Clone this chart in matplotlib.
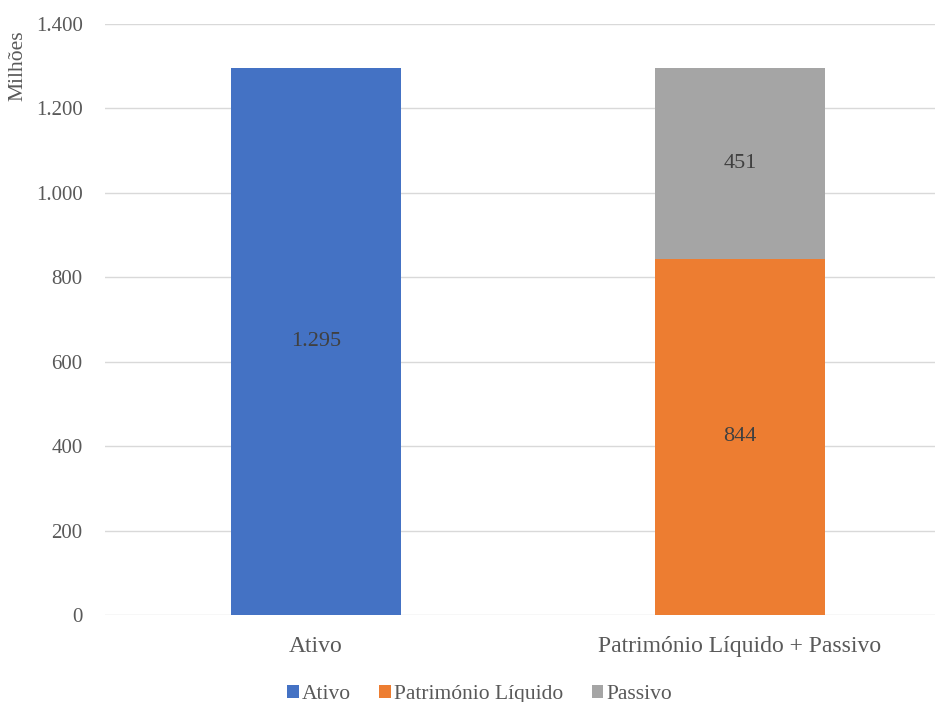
import matplotlib
matplotlib.use("Agg")
import matplotlib.pyplot as plt
from matplotlib.ticker import FuncFormatter
from matplotlib.patches import Patch

plt.rcParams['font.family'] = ['Liberation Serif', 'DejaVu Serif']

categories = ["Ativo", "Património Líquido + Passivo"]
ativo = [1295, 0]
pl = [0, 844]
passivo = [0, 451]
series_names = ["Ativo", "Património Líquido", "Passivo"]
colors = ["#4472C4", "#ED7D31", "#A5A5A5"]
yticks = [0, 200, 400, 600, 800, 1000, 1200, 1400]

fig = plt.figure(figsize=(9.37, 7.02), dpi=100)
ax = fig.add_axes([0.112, 0.124, 0.886, 0.842])

x = [0, 1]
w = 0.40
ax.bar(x, ativo, w, color=colors[0], zorder=3)
ax.bar(x, pl, w, color=colors[1], zorder=3)
ax.bar(x, passivo, w, bottom=pl, color=colors[2], zorder=3)

txtc = "#404040"
def fmt(v):
    return f"{int(v):,}".replace(",", ".")

ax.text(0, ativo[0] / 2, fmt(ativo[0]), ha="center", va="center", fontsize=16, color=txtc, zorder=4)
ax.text(1, pl[1] / 2, fmt(pl[1]), ha="center", va="center", fontsize=16, color=txtc, zorder=4)
ax.text(1, pl[1] + passivo[1] / 2, fmt(passivo[1]), ha="center", va="center", fontsize=16, color=txtc, zorder=4)

ax.set_xlim(-0.4976, 1.46)
ax.set_ylim(0, 1400)
ax.set_yticks(yticks)
ax.yaxis.set_major_formatter(FuncFormatter(lambda v, p: fmt(v)))
ax.set_xticks(x)
ax.set_xticklabels(categories)
ax.tick_params(axis="both", length=0, labelcolor="#595959")
ax.tick_params(axis="y", pad=16, labelsize=15)
ax.tick_params(axis="x", pad=15, labelsize=17)
ax.grid(axis="y", color="#D9D9D9", linewidth=1, zorder=0)
for s in ax.spines.values():
    s.set_visible(False)

fig.text(0.019, 0.957, "Milhões", rotation=90, ha="center", va="top", fontsize=15.5, color="#595959")

handles = [Patch(facecolor=c, edgecolor="none") for c in colors]
fig.legend(handles, series_names, loc="center", bbox_to_anchor=(0.512, 0.011), ncol=3, frameon=False,
           fontsize=15.5, handlelength=0.55, handleheight=0.55, handletextpad=0.15, columnspacing=1.3,
           labelcolor="#595959")

fig.savefig("out.png", dpi=100)
